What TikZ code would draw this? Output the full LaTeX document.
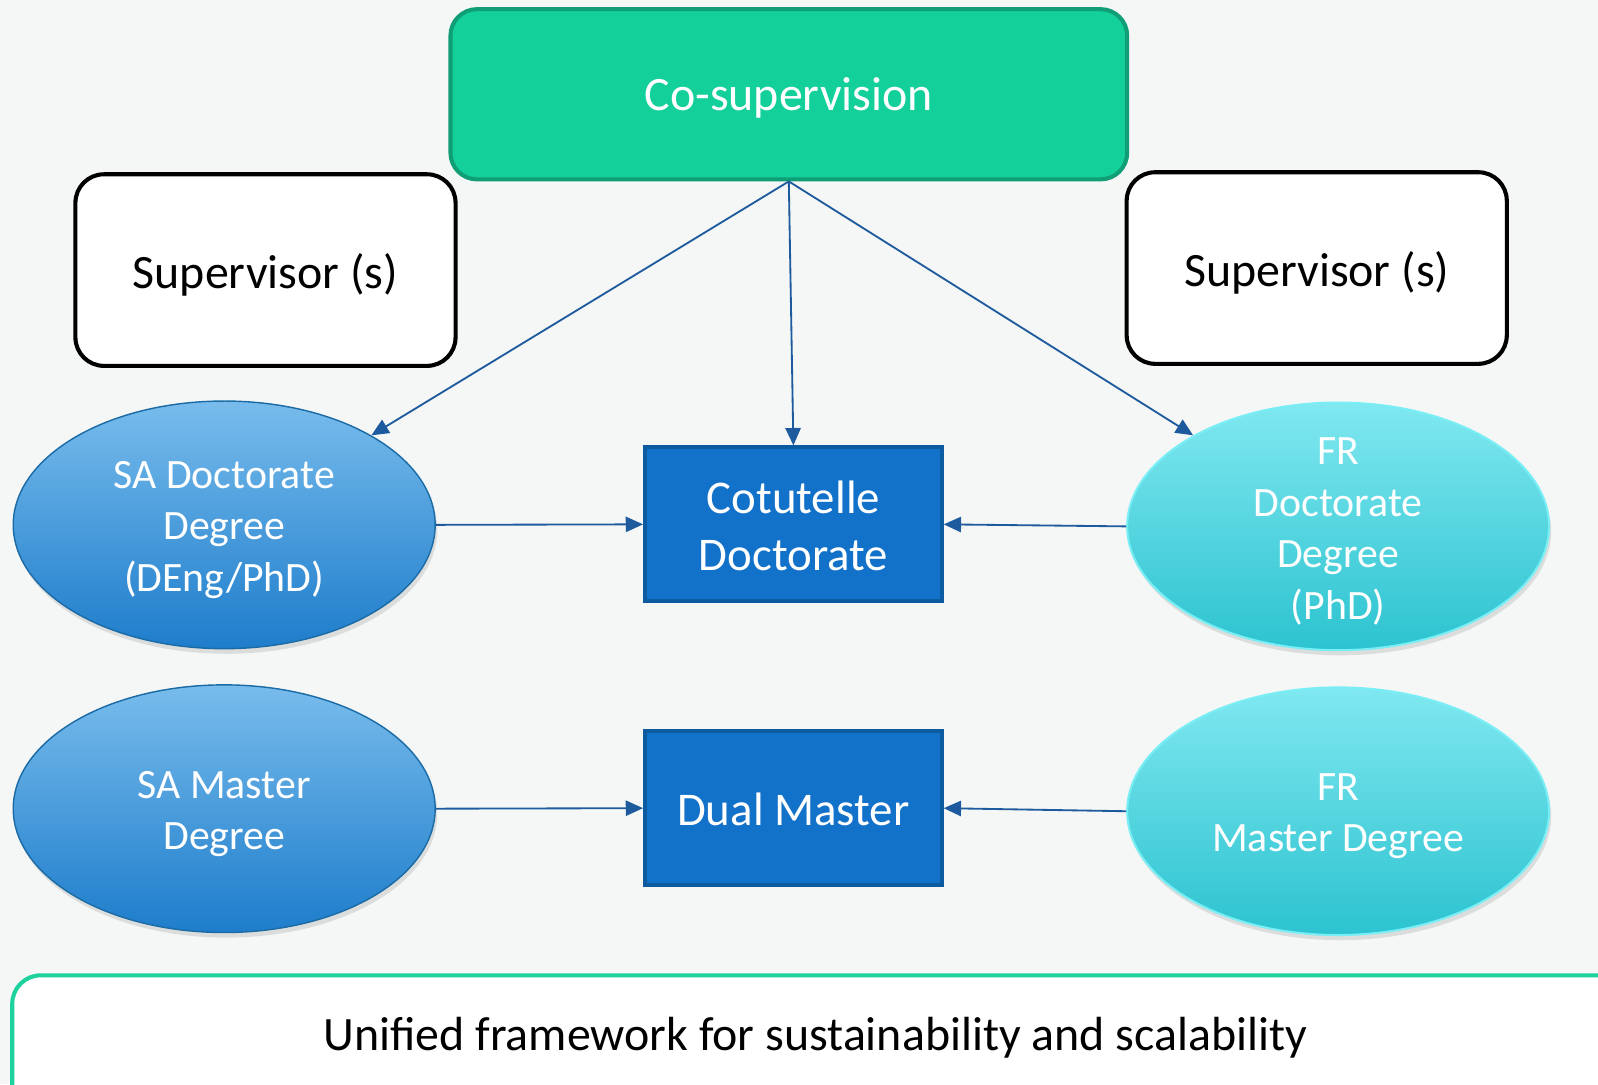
\documentclass[tikz,border=0pt]{standalone}
\usepackage{fontspec}
\setmainfont{Carlito}
\usetikzlibrary{arrows.meta,shapes.geometric,shadows}
\definecolor{bgc}{HTML}{F5F6F6}
\definecolor{cosupfill}{HTML}{13D09B}
\definecolor{cosupdraw}{HTML}{0F9E76}
\definecolor{cotfill}{HTML}{1271C9}
\definecolor{cotdraw}{HTML}{0C5AA0}
\definecolor{arrc}{HTML}{1E5B9E}
\definecolor{satop}{HTML}{78BCEC}
\definecolor{sabot}{HTML}{1E7DCB}
\definecolor{sadraw}{HTML}{1B6CA6}
\definecolor{frtop}{HTML}{80E8F0}
\definecolor{frbot}{HTML}{2CC3D0}
\definecolor{frdraw}{HTML}{7AEEF5}
\definecolor{framec}{HTML}{1ED29E}
\tikzset{
  supbox/.style={draw=black, line width=2pt, fill=white, rounded corners=14pt,
    minimum width=186.5pt, minimum height=94pt, inner sep=0pt},
  cosupbox/.style={draw=cosupdraw, line width=2pt, fill=cosupfill, rounded corners=13pt,
    minimum width=332pt, minimum height=83.5pt, inner sep=0pt},
  midbox/.style={draw=cotdraw, line width=2pt, fill=cotfill,
    minimum width=145.5pt, minimum height=75.5pt, inner sep=0pt},
  saell/.style={ellipse, draw=sadraw, line width=0.7pt, top color=satop, bottom color=sabot,
    minimum width=207pt, minimum height=121.5pt, inner sep=0pt,
    drop shadow={shadow xshift=1pt, shadow yshift=-2.5pt, opacity=0.18, fill=black!60}},
  frell/.style={ellipse, draw=frdraw, line width=1pt, top color=frtop, bottom color=frbot,
    minimum width=207pt, minimum height=121.5pt, inner sep=0pt,
    drop shadow={shadow xshift=1pt, shadow yshift=-2.5pt, opacity=0.18, fill=black!60}},
  bigtxt/.style={inner sep=0pt, font=\fontsize{23.5pt}{28pt}\selectfont},
  midtxt/.style={inner sep=0pt, text=white, align=center, font=\fontsize{23pt}{28pt}\selectfont},
  elltxt/.style={inner sep=0pt, text=white, align=center, font=\fontsize{20.5pt}{25.2pt}\selectfont},
  conn/.style={draw=arrc, line width=0.9pt, -{Triangle[length=8.5pt,width=7.5pt]}},
}
\begin{document}
\begin{tikzpicture}[x=0.5pt, y=-0.5pt]
\clip (0,0) rectangle (1568,1064);
\fill[bgc] (0,0) rectangle (1568,1064);

\node[cosupbox] (cosup) at (774,92.5) {};
\node[bigtxt, text=white] (cosupt) at (774,96) {Co-supervision};
\node[supbox] (supl) at (260.5,265) {};
\node[bigtxt] (suplt) at (260.5,270) {Supervisor (s)};
\node[supbox] (supr) at (1292,263) {};
\node[bigtxt] (suprt) at (1292,268) {Supervisor (s)};

\node[saell] (sadoc) at (220,515) {};
\node[elltxt] (sadoct) at (220,520) {SA Doctorate\\Degree\\(DEng/PhD)};
\node[frell] (frdoc) at (1313,516.5) {};
\node[elltxt] (frdoct) at (1313,521.5) {FR\\Doctorate\\Degree\\(PhD)};
\node[saell] (sams) at (220,793.5) {};
\node[elltxt] (samst) at (220,798.5) {SA Master\\Degree};
\node[frell] (frms) at (1313,796) {};
\node[elltxt] (frmst) at (1313,801) {FR\\Master Degree};

\node[midbox] (cot) at (778.5,514.5) {};
\node[midtxt] (cott) at (778.5,516) {Cotutelle\\Doctorate};
\node[midbox] (dual) at (778.5,793) {};
\node[midtxt] (dualt) at (778.5,794) {Dual Master};

\draw[conn] (cosup.south) -- (sadoc);
\draw[conn] (cosup.south) -- (cot.north);
\draw[conn] (cosup.south) -- (frdoc);
\draw[conn] (sadoc.east) -- (cot.west);
\draw[conn] (frdoc.west) -- (cot.east);
\draw[conn] (sams.east) -- (dual.west);
\draw[conn] (frms.west) -- (dual.east);

\node[draw=framec, line width=2pt, fill=white, rounded corners=14pt,
  minimum width=804pt, minimum height=73pt] (frame) at (816,1030) {};
\node[bigtxt] (unified) at (800,1018)
  {Unified framework for sustainability and scalability};
\end{tikzpicture}
\end{document}
